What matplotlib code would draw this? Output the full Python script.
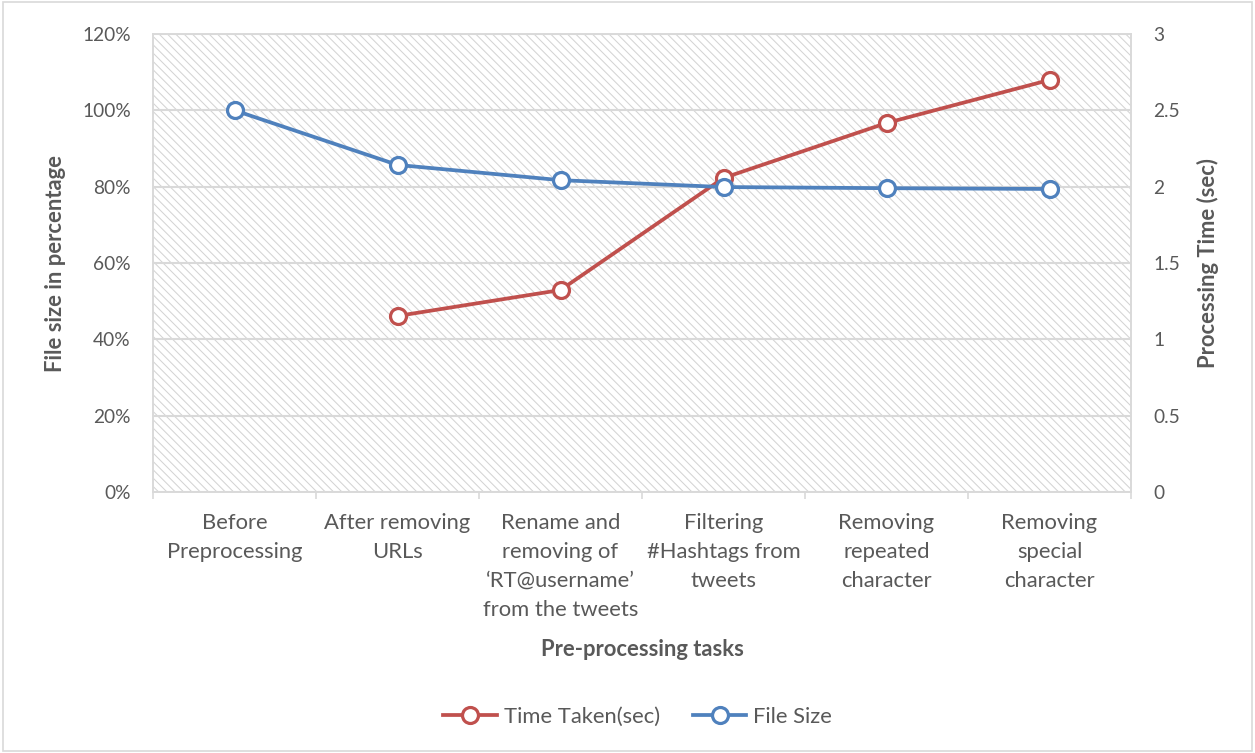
import matplotlib
matplotlib.use("Agg")
import matplotlib.pyplot as plt
from matplotlib.ticker import FixedLocator, FuncFormatter
from matplotlib.lines import Line2D
from matplotlib.patches import Rectangle

categories = [
    "Before\nPreprocessing",
    "After removing\nURLs",
    "Rename and\nremoving of\n\u2018RT@username\u2019\nfrom the tweets",
    "Filtering\n#Hashtags from\ntweets",
    "Removing\nrepeated\ncharacter",
    "Removing\nspecial\ncharacter",
]
file_size = [100.0, 85.7, 81.7, 79.9, 79.6, 79.4]
time_taken = [None, 1.153, 1.323, 2.057, 2.417, 2.699]
left_ticks = [0, 20, 40, 60, 80, 100, 120]
right_ticks = [0, 0.5, 1, 1.5, 2, 2.5, 3]
right_labels = ["0", "0.5", "1", "1.5", "2", "2.5", "3"]

plt.rcParams['font.family'] = ['Lato', 'DejaVu Sans']
plt.rcParams['hatch.linewidth'] = 0.75
plt.rcParams['hatch.color'] = '#d4d4d4'

TXT = '#595959'
GRID = '#d9d9d9'
RED = '#C0504D'
BLUE = '#4F81BD'
FS = 15.8
FSN = 13.8

fig = plt.figure(figsize=(12.55, 7.53), dpi=100)
fig.patches.append(Rectangle((0.002, 0.002), 0.996, 0.996, transform=fig.transFigure,
                             fill=False, edgecolor=GRID, linewidth=1.2))

ax = fig.add_axes([153/1255, 1-492/753, (1131-153)/1255, (492-34)/753])
ax2 = ax.twinx()

n = len(categories)
x = list(range(n))

ax2.set_zorder(1)
ax.set_zorder(2)
ax.patch.set_visible(False)
ax2.patch.set_facecolor('white')
ax2.add_patch(Rectangle((0, 0), 1, 1, transform=ax2.transAxes, facecolor='white',
                        edgecolor='#d4d4d4', hatch='\\' * 4, linewidth=0, zorder=0))

ax.set_xlim(-0.5, n - 0.5)
ax.set_ylim(0, 120)
ax2.set_ylim(0, 3)

ax2.set_yticks(right_ticks)
ax2.set_yticklabels(right_labels)
ax2.yaxis.grid(True, color=GRID, linewidth=1.5)
ax2.xaxis.set_minor_locator(FixedLocator([i + 0.5 for i in range(-1, n)]))
ax2.xaxis.grid(True, which='minor', color=GRID, linewidth=1.5)
ax2.set_axisbelow(True)

mk = dict(linewidth=2.7, marker='o', markersize=11.5, markerfacecolor='white',
          markeredgewidth=2.3)
ax2.plot(x, [v if v is not None else float('nan') for v in time_taken], color=RED,
         markeredgecolor=RED, zorder=3, **mk)
ax.plot(x, file_size, color=BLUE, markeredgecolor=BLUE, zorder=3, **mk)

ax.set_yticks(left_ticks)
ax.yaxis.set_major_formatter(FuncFormatter(lambda v, p: f"{int(v)}%"))
ax.set_xticks(x)
ax.set_xticklabels(categories, fontsize=FS, color=TXT, linespacing=1.56)
ax.xaxis.set_minor_locator(FixedLocator([i + 0.5 for i in range(-1, n)]))
ax.tick_params(axis='x', which='major', length=0, pad=15)
ax.tick_params(axis='x', which='minor', length=5, color=GRID, width=1.2)
ax.tick_params(axis='y', length=0, labelsize=FSN, labelcolor=TXT, pad=16)
ax2.tick_params(axis='y', length=0, labelsize=FSN, labelcolor=TXT, pad=16)
ax2.tick_params(axis='x', which='both', length=0, labelbottom=False)

for a in (ax, ax2):
    for s in a.spines.values():
        s.set_color(GRID)
        s.set_linewidth(1.2)

ax.set_ylabel("File size in percentage", fontsize=FS, fontweight='bold', color=TXT,
              va='center')
ax.yaxis.set_label_coords((55-153)/978, 0.5)
ax2.set_ylabel("Processing Time (sec)", fontsize=FS, fontweight='bold', color=TXT,
               rotation=90, va='center')
ax2.yaxis.set_label_coords((1208-153)/978, 0.5)
ax.set_xlabel("Pre-processing tasks", fontsize=FS, fontweight='bold', color=TXT,
              va='center')
ax.xaxis.set_label_coords(0.5, (492-649)/458)

handles = [
    Line2D([], [], color=RED, markeredgecolor=RED, **mk),
    Line2D([], [], color=BLUE, markeredgecolor=BLUE, **mk),
]
leg = fig.legend(handles, ["Time Taken(sec)", "File Size"], loc='center',
                 bbox_to_anchor=(0.508, 1-717/753), ncol=2, frameon=False,
                 fontsize=FS, handlelength=2.45, columnspacing=1.5, handletextpad=0.3)
for t in leg.get_texts():
    t.set_color(TXT)

fig.savefig("out.png", dpi=100)
